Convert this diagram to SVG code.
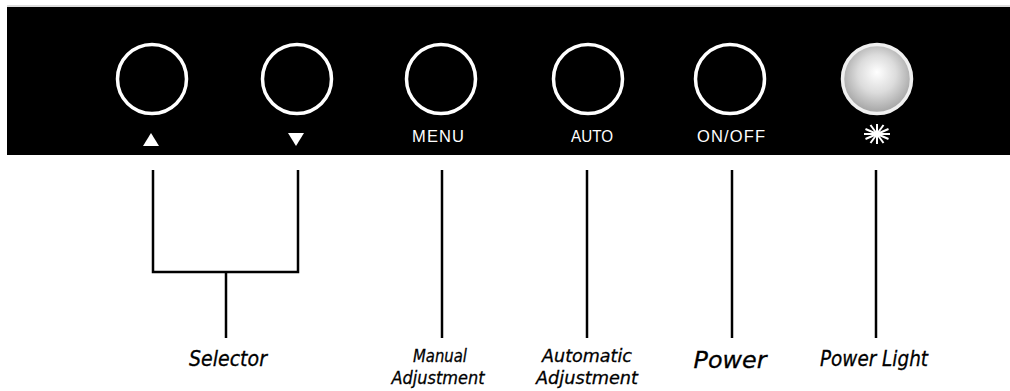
<svg xmlns="http://www.w3.org/2000/svg" width="1010" height="391" viewBox="0 0 1010 391">
  <style>
    .btn { fill: none; stroke: #ffffff; stroke-width: 3.5; }
    .blabel { font-family: "Liberation Sans", Arial, sans-serif; font-size: 16.5px; fill: #ffffff; text-anchor: middle; }
    .conn { stroke: #000000; stroke-width: 2.5; fill: none; }
    .label { font-family: "DejaVu Sans", Verdana, sans-serif; font-style: italic; font-size: 21px; fill: #000000; stroke: #000000; stroke-width: 0.3; text-anchor: middle; }
    .label2 { font-size: 18px; }
  </style>
  <defs>
    <radialGradient id="glow" cx="0.5" cy="0.45" r="0.55" fx="0.5" fy="0.4">
      <stop offset="0" stop-color="#ffffff"/>
      <stop offset="0.5" stop-color="#dcdcdc"/>
      <stop offset="1" stop-color="#a2a2a2"/>
    </radialGradient>
  </defs>
  <rect x="0" y="0" width="1010" height="391" fill="#ffffff"/>
  <line x1="7" y1="6" x2="1010" y2="6" stroke="#bbbbbb" stroke-width="1"/>
  <rect id="panel" x="7" y="7" width="1003" height="148" fill="#000000"/>

  <g id="btn-up">
    <circle class="btn" cx="152" cy="79" r="34.5"/>
    <polygon points="151,133 143,146 159,146" fill="#ffffff"/>
  </g>
  <g id="btn-down">
    <circle class="btn" cx="297" cy="79" r="34.5"/>
    <polygon points="288,133 304,133 296,146" fill="#ffffff"/>
  </g>
  <g id="btn-menu">
    <circle class="btn" cx="441" cy="79" r="34.5"/>
    <text class="blabel" x="438" y="142" textLength="52" lengthAdjust="spacing">MENU</text>
  </g>
  <g id="btn-auto">
    <circle class="btn" cx="588" cy="79" r="34.5"/>
    <text class="blabel" x="592" y="142" textLength="42" lengthAdjust="spacingAndGlyphs">AUTO</text>
  </g>
  <g id="btn-power">
    <circle class="btn" cx="730" cy="79" r="34.5"/>
    <text class="blabel" x="731" y="142" textLength="68" lengthAdjust="spacing">ON/OFF</text>
  </g>
  <g id="power-light">
    <circle cx="877" cy="79" r="34.5" fill="url(#glow)" stroke="#f0f0f0" stroke-width="3.5"/>
    <g stroke="#ffffff" stroke-width="2" transform="translate(877,134)">
      <line x1="-13" y1="0" x2="13" y2="0"/>
      <line x1="0" y1="-10" x2="0" y2="10"/>
      <line x1="-11.5" y1="-5" x2="11.5" y2="5"/>
      <line x1="-11.5" y1="5" x2="11.5" y2="-5"/>
      <line x1="-6.5" y1="-9" x2="6.5" y2="9"/>
      <line x1="-6.5" y1="9" x2="6.5" y2="-9"/>
    </g>
  </g>

  <g id="connectors">
    <path class="conn" d="M153,170 V272 H298 V170"/>
    <line class="conn" x1="226" y1="272" x2="226" y2="338"/>
    <line class="conn" x1="442" y1="170" x2="442" y2="338"/>
    <line class="conn" x1="587" y1="170" x2="587" y2="338"/>
    <line class="conn" x1="732" y1="170" x2="732" y2="338"/>
    <line class="conn" x1="876" y1="170" x2="876" y2="338"/>
  </g>

  <g id="label-selector">
    <text class="label" x="228" y="366" textLength="78" lengthAdjust="spacingAndGlyphs">Selector</text>
  </g>
  <g id="label-manual">
    <text class="label label2" x="440" y="362" textLength="54" lengthAdjust="spacingAndGlyphs">Manual</text>
    <text class="label label2" x="438" y="384" textLength="93" lengthAdjust="spacingAndGlyphs">Adjustment</text>
  </g>
  <g id="label-automatic">
    <text class="label label2" x="587" y="362" textLength="90" lengthAdjust="spacingAndGlyphs">Automatic</text>
    <text class="label label2" x="587" y="384" textLength="102" lengthAdjust="spacingAndGlyphs">Adjustment</text>
  </g>
  <g id="label-power">
    <text class="label" x="730" y="368" style="font-size:23px" textLength="73" lengthAdjust="spacingAndGlyphs">Power</text>
  </g>
  <g id="label-power-light">
    <text class="label" x="874" y="366" textLength="108" lengthAdjust="spacingAndGlyphs">Power Light</text>
  </g>
</svg>
